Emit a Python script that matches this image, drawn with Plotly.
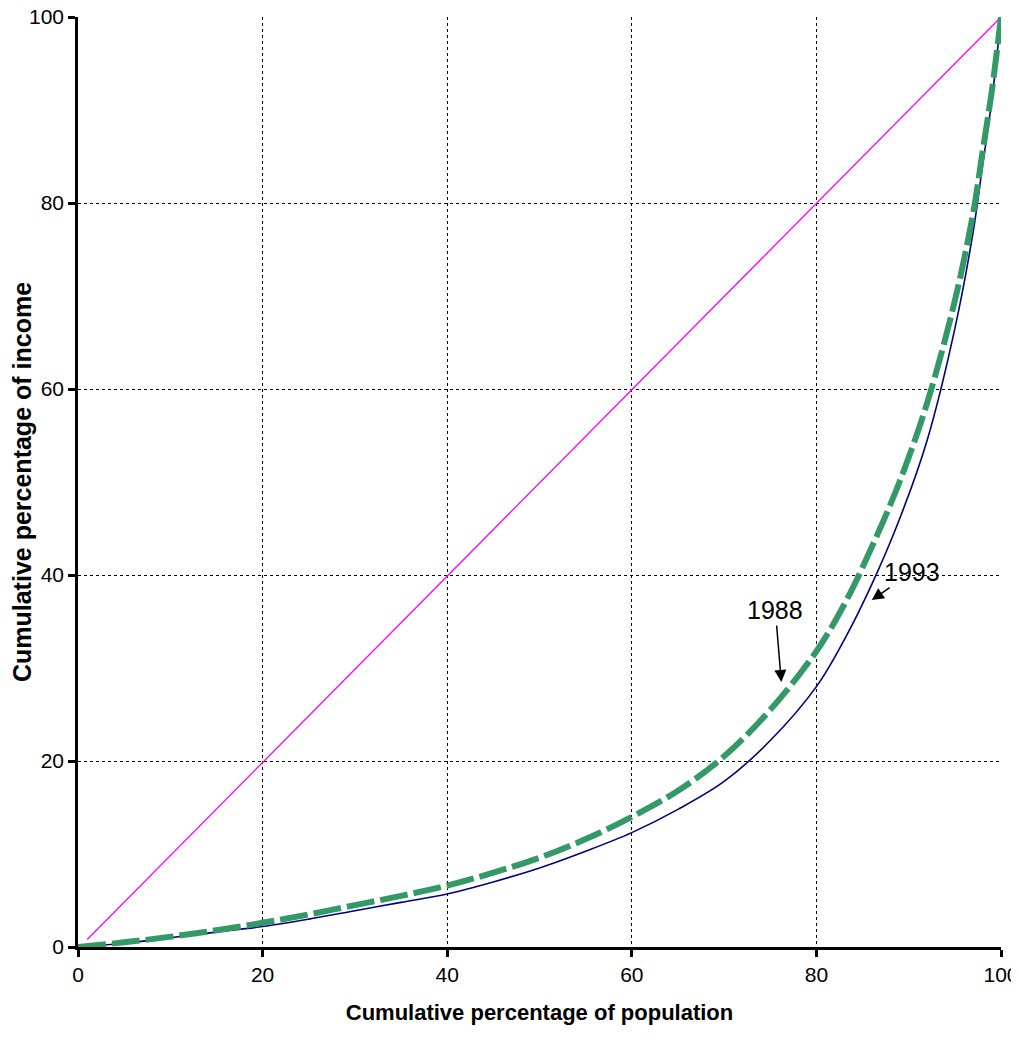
import plotly.graph_objects as go

# Lorenz curves, values
pop = [0, 5, 10, 15, 20, 25, 30, 35, 40, 45, 50, 55, 60, 65, 70, 75, 80,
       83, 86, 89, 92, 95, 97, 98, 99, 100]
inc_1988 = [0, 0.5, 1.1, 1.8, 2.6, 3.5, 4.5, 5.5, 6.6, 8.0, 9.6, 11.6, 14.0, 16.8,
            20.5, 25.5, 31.8, 36.8, 43.0, 50.0, 58.5, 69.5, 79.0, 85.5, 92.0, 100]
inc_1993 = [0, 0.4, 1.0, 1.6, 2.2, 3.0, 3.9, 4.8, 5.7, 7.0, 8.5, 10.3, 12.3, 14.8,
            17.8, 22.2, 28.0, 33.0, 39.0, 46.0, 54.5, 66.5, 77.0, 84.0, 91.0, 100]
equality_x = [1, 100]
equality_y = [0.8, 100]

fig = go.Figure()
fig.add_trace(go.Scatter(x=equality_x, y=equality_y, mode="lines",
                         line=dict(color="#FF00FF", width=1.3)))
fig.add_trace(go.Scatter(x=pop, y=inc_1993, mode="lines", line_shape="spline",
                         line=dict(color="#000080", width=1.6)))
fig.add_trace(go.Scatter(x=pop, y=inc_1988, mode="lines", line_shape="spline",
                         line=dict(color="#339966", width=6, dash="28px,6px")))

arrow = dict(showarrow=True, arrowhead=2, arrowsize=1.6, arrowwidth=1.5,
             arrowcolor="black",
             font=dict(size=25, color="black", family="Liberation Sans Narrow, Liberation Sans"))
fig.add_annotation(x=76.2, y=28.5, ax=-6, ay=-72, text="1988", **arrow)
fig.add_annotation(x=86, y=37.3, ax=40, ay=-28, text="1993", **arrow)

axis = dict(range=[0, 100], tickvals=[0, 20, 40, 60, 80, 100], showgrid=True,
            gridcolor="black", griddash="dot", gridwidth=1, zeroline=False,
            showline=True, linecolor="black", linewidth=2.5, ticks="outside",
            ticklen=7, tickwidth=2.5, tickcolor="black", automargin=False,
            ticklabeloverflow="allow", tickfont=dict(size=21, color="black"))
fig.update_xaxes(**axis, title=dict(text="<b>Cumulative percentage of population</b>",
                                    font=dict(size=22), standoff=20))
fig.update_yaxes(**axis, title=dict(text="<b>Cumulative percentage of income</b>",
                                    font=dict(size=25), standoff=20))
fig.update_layout(width=1019, height=1040, showlegend=False,
                  plot_bgcolor="white", paper_bgcolor="white",
                  font=dict(family="Liberation Sans", color="black"),
                  margin=dict(l=70, r=26, t=9, b=101))
fig.write_html("out.html")
